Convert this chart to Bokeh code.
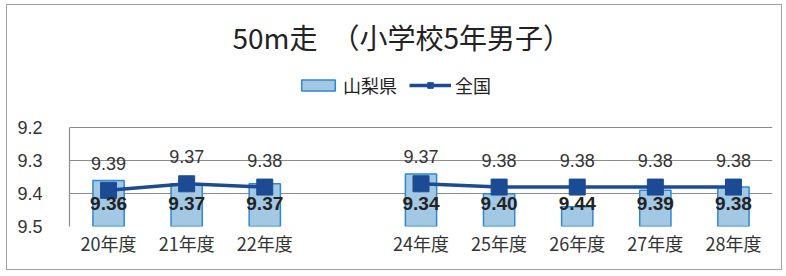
from bokeh.plotting import figure
from bokeh.models import (ColumnDataSource, Range1d, FixedTicker, LabelSet, Legend, LegendItem, Title)
from bokeh.core.properties import value
from bokeh.embed import file_html
from bokeh.resources import INLINE

# ---- data ----
categories = ["20年度", "21年度", "22年度", "23年度", "24年度", "25年度", "26年度", "27年度", "28年度"]
yamanashi = [9.36, 9.37, 9.37, None, 9.34, 9.40, 9.44, 9.39, 9.38]
zenkoku = [9.39, 9.37, 9.38, None, 9.37, 9.38, 9.38, 9.38, 9.38]
y_ticks = [9.2, 9.3, 9.4, 9.5]
title_text = "50m走　（小学校5年男子）"

JP = "Noto Sans CJK JP"
NUM = "Liberation Sans"
nan = float("nan")
xs = list(range(len(categories)))
ya = [nan if v is None else v for v in yamanashi]
zk = [nan if v is None else v for v in zenkoku]
shown = [c if v is not None else "" for c, v in zip(categories, yamanashi)]

src = ColumnDataSource(dict(
    x=xs, ya=ya, zk=zk,
    base=[max(y_ticks)] * len(xs),
    ya_lbl=["" if v is None else f"{v:.2f}" for v in yamanashi],
    zk_lbl=["" if v is None else f"{v:.2f}" for v in zenkoku],
))

# y range reversed; extra room above the top tick holds the legend
p = figure(width=776, height=266, output_backend="svg", toolbar_location=None,
           x_range=Range1d(-0.5, len(categories) - 0.5),
           y_range=Range1d(max(y_ticks), min(y_ticks) - 0.19),
           min_border_left=62, min_border_right=11, min_border_bottom=45, min_border_top=60,
           title=None)
p.styles = {"border": "1px solid #a0a0a0", "margin-left": "6px", "margin-top": "4px"}
p.outline_line_color = None
p.background_fill_color = "white"

bars = p.vbar(x="x", top="ya", bottom="base", width=0.4, source=src,
              fill_color="#a3c8e4", line_color="#2f88cc", line_width=1.5)
ln = p.line(x="x", y="zk", source=src, line_color="#1c4b94", line_width=3.5)
mk = p.scatter(x="x", y="zk", source=src, marker="square", size=16,
               fill_color="#1c4b94", line_color="#1c4b94")

# axes
p.yaxis.ticker = FixedTicker(ticks=y_ticks)
p.yaxis.bounds = (min(y_ticks), max(y_ticks))
p.yaxis.major_label_overrides = {t: f"{t:.1f}" for t in y_ticks}
p.yaxis.axis_line_color = "#8c8c8c"
p.yaxis.axis_line_width = 1.2
p.yaxis.major_tick_line_color = None
p.yaxis.minor_tick_line_color = None
p.yaxis.major_label_text_font = NUM
p.yaxis.major_label_text_font_size = "18px"
p.yaxis.major_label_text_color = "#333333"
p.yaxis.major_label_standoff = 21

p.xaxis.ticker = FixedTicker(ticks=[x for x, s in zip(xs, shown) if s])
p.xaxis.major_label_overrides = {x: s for x, s in zip(xs, shown) if s}
p.xaxis.axis_line_color = None
p.xaxis.major_tick_line_color = None
p.xaxis.minor_tick_line_color = None
p.xaxis.major_label_text_font = JP
p.xaxis.major_label_text_font_size = "18px"
p.xaxis.major_label_text_color = "#333333"
p.xaxis.major_label_standoff = -3

p.xgrid.grid_line_color = None
p.ygrid.ticker = FixedTicker(ticks=y_ticks)
p.ygrid.grid_line_color = "#8c8c8c"
p.ygrid.grid_line_width = 1.2

# data labels
p.add_layout(LabelSet(x="x", y="zk", text="zk_lbl", source=src, y_offset=27,
                      text_align="center", text_baseline="middle",
                      text_font=value(NUM), text_font_size="18px", text_color="#333333"))
p.add_layout(LabelSet(x="x", y="base", text="ya_lbl", source=src, y_offset=23,
                      text_align="center", text_baseline="middle",
                      text_font=value(NUM), text_font_size="19px", text_font_style="bold",
                      text_color="#222222"))

legend = Legend(items=[LegendItem(label="山梨県", renderers=[bars]),
                       LegendItem(label="全国", renderers=[ln, mk])],
                orientation="horizontal", location=(228, 128),
                label_text_font=JP, label_text_font_size="18px", label_text_color="#222222",
                glyph_width=42, glyph_height=14, label_standoff=4, spacing=12,
                border_line_color=None, background_fill_alpha=0, margin=0, padding=6)
p.add_layout(legend, "center")

p.add_layout(Title(text=title_text, align="left", offset=163, text_font=JP,
                   text_font_size="28px", text_font_style="normal", text_color="#222222",
                   standoff=18), "above")

open("out.html", "w").write(file_html(p, INLINE))
